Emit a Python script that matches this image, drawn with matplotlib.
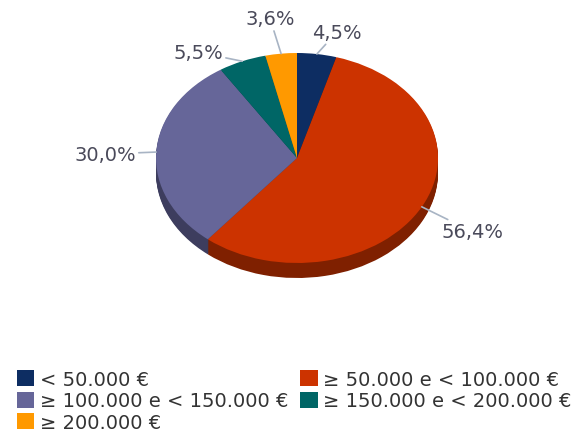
import numpy as np
import matplotlib
matplotlib.use('Agg')
import matplotlib.pyplot as plt
from matplotlib.patches import Patch

# ===== Data =====
categories = ["< 50.000 €", "≥ 50.000 e < 100.000 €", "≥ 100.000 e < 150.000 €",
              "≥ 150.000 e < 200.000 €", "≥ 200.000 €"]
values = [4.5, 56.4, 30.0, 5.5, 3.6]

top_colors = ["#0d2d62", "#cc3300", "#666699", "#006666", "#ff9900"]
side_colors = ["#06193a", "#7f2000", "#3d3d5e", "#003d3d", "#995c00"]

# label offsets in pixels (from the wedge edge)
label_offsets = [(20, 22), (51, -25), (-51, -2), (-44, 9), (-11, 35)]

plt.rcParams['font.family'] = ['DejaVu Sans']

fig = plt.figure(figsize=(5.8, 4.35), dpi=100)

# pie axes: aspect auto so the pie becomes an ellipse
W, H = 580, 435
depth = 0.143
ax = fig.add_axes([156 / W, (H - 279) / H, 282 / W, 225 / H])

for off in np.linspace(-depth, 0, 16)[:-1]:
    ax.pie(values, colors=side_colors, startangle=90, counterclock=False,
           center=(0, off), radius=1, frame=True)
wedges, _ = ax.pie(values, colors=top_colors, startangle=90, counterclock=False,
                   center=(0, 0), radius=1, frame=True)
ax.set_xlim(-1, 1)
ax.set_ylim(-1 - depth, 1)
ax.set_aspect('auto')
ax.axis('off')

# percentage labels with leader lines
start = 90.0
for v, (dx, dy) in zip(values, label_offsets):
    mid = np.deg2rad(start - v * 3.6 / 2)
    start -= v * 3.6
    xy = (np.cos(mid), np.sin(mid))
    ax.annotate(f"{v:.1f}".replace('.', ',') + '%', xy=xy,
                xytext=(dx, dy), textcoords='offset pixels',
                ha='center', va='center', fontsize=14, color='#4a4a5a',
                arrowprops=dict(arrowstyle='-', color='#a8b4c4', lw=1.2,
                                shrinkA=0, shrinkB=0))

# legend filled row by row
handles = [Patch(facecolor=c, edgecolor='none') for c in top_colors]
order = [0, 2, 4, 1, 3]
fig.legend([handles[i] for i in order], [categories[i] for i in order],
           ncol=2, loc='lower left', bbox_to_anchor=(0.012, -0.018),
           frameon=False, fontsize=14, handlelength=0.9, handleheight=0.9,
           handletextpad=0.3, labelspacing=0.14, columnspacing=0.6,
           borderaxespad=0.1, labelcolor='#333333')

fig.savefig('out.png', dpi=100)
